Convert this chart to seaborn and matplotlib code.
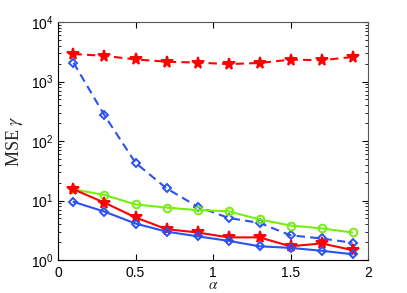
import numpy as np
import pandas as pd
import matplotlib
matplotlib.use("Agg")
import matplotlib.pyplot as plt
import seaborn as sns

# alpha values
alpha = [0.1, 0.3, 0.5, 0.7, 0.9, 1.1, 1.3, 1.5, 1.7, 1.9]

# MSE gamma
red_dashed = [2900, 2700, 2350, 2150, 2080, 1960, 2050, 2330, 2280, 2580]
blue_dashed = [2070, 270, 43, 16, 7.9, 5.1, 4.2, 2.6, 2.3, 1.95]
green_solid = [15.4, 12.4, 8.6, 7.6, 6.9, 6.6, 4.8, 3.8, 3.4, 2.9]
red_solid = [15.4, 9.2, 5.2, 3.3, 2.9, 2.4, 2.4, 1.7, 1.9, 1.47]
blue_solid = [9.5, 6.5, 4.1, 3.0, 2.5, 2.1, 1.7, 1.6, 1.43, 1.25]

sns.set_style("ticks")
plt.rcParams["font.family"] = ["Liberation Sans", "DejaVu Sans"]
plt.rcParams["mathtext.fontset"] = "stix"

fig = plt.figure(figsize=(4.07, 2.93), dpi=100)
ax = fig.add_axes([0.1425, 0.1126, 0.7617, 0.8123])

red = "#ff0000"
blue = "#2a52f0"
green = "#77ee11"

series = [
    (red_dashed, red, (0, (4, 2.5)), "*", 8.5, red),
    (blue_dashed, blue, (0, (4, 2.5)), "D", 4, "none"),
    (green_solid, green, "-", "o", 5.5, "none"),
    (red_solid, red, "-", "*", 8.5, red),
    (blue_solid, blue, "-", "D", 4, "none"),
]
for vals, col, ls, mk, ms, mfc in series:
    df = pd.DataFrame({"alpha": alpha, "mse": vals})
    sns.lineplot(data=df, x="alpha", y="mse", ax=ax, color=col,
                 linestyle=ls, linewidth=1.5, marker=mk, markersize=ms,
                 markerfacecolor=mfc, markeredgecolor=col,
                 markeredgewidth=1.4)

ax.set_yscale("log")
ax.set_xlim(0, 2)
ax.set_ylim(1, 1e4)
ax.set_xticks([0, 0.5, 1, 1.5, 2])
ax.set_xticklabels(["0", "0.5", "1", "1.5", "2"])
ax.tick_params(which="both", direction="in", top=True, right=True,
               labelsize=10, colors="black")
ax.tick_params(which="major", length=4)
ax.tick_params(which="minor", length=2)
ax.tick_params(axis="x", pad=4)
for s in ax.spines.values():
    s.set_color("#555555")
    s.set_linewidth(0.8)
ax.spines["left"].set_color("black")
ax.spines["bottom"].set_color("black")

ax.set_xlabel(r"$\alpha$", fontsize=11, labelpad=-1)
ax.set_ylabel(r"MSE $\gamma$", fontsize=13, family="Liberation Serif", labelpad=4)

fig.savefig("out.png", dpi=100)
